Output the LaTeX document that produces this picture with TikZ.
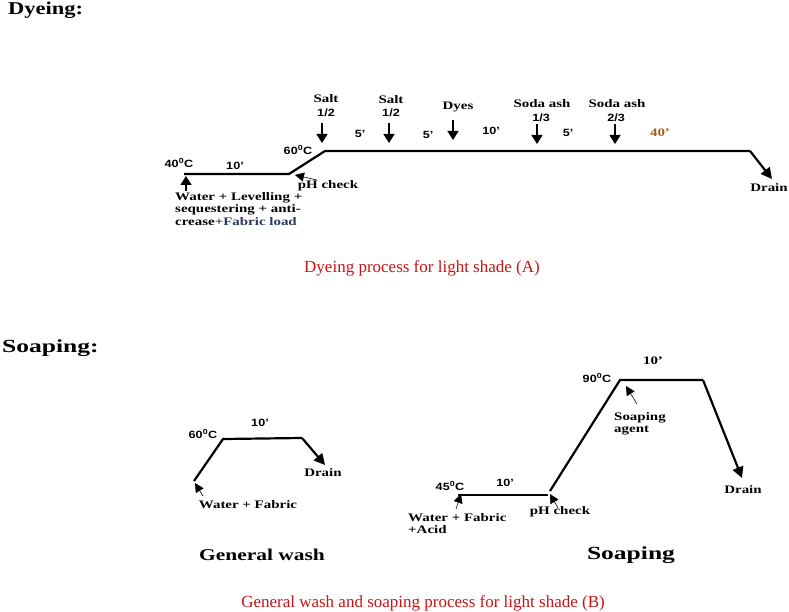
\documentclass[tikz,border=0pt]{standalone}
\usepackage{fontspec}
\setmainfont{Liberation Serif}
\newfontfamily\lblfont[FakeStretch=1.3]{Liberation Serif}
\newfontfamily\numfont[FakeStretch=1.2]{Liberation Sans}
\newfontfamily\ttlfont[FakeStretch=1.25]{Liberation Serif}
\newfontfamily\ttlwidefont[FakeStretch=1.38]{Liberation Serif}
\usetikzlibrary{arrows.meta}
\definecolor{capred}{RGB}{200,20,20}
\definecolor{loadblue}{RGB}{45,55,95}
\definecolor{timeorange}{RGB}{165,95,20}
\tikzset{
  proc/.style={line width=2.2pt, line join=miter},
  procarrow/.style={line width=2.2pt, -{Triangle[length=11pt,width=11pt]}},
  addarrow/.style={line width=1.3pt, -{Triangle[length=9pt,width=11pt]}},
  pointer/.style={line width=0.6pt, -{Triangle[length=9pt,width=9pt]}},
  lbl/.style={inner sep=0pt, font=\lblfont\bfseries\fontsize{11.5}{12.5}\selectfont},
  num/.style={inner sep=0pt, font=\numfont\bfseries\fontsize{10.5}{12}\selectfont},
  caption/.style={inner sep=0pt, text=capred, font=\fontsize{17}{20}\selectfont},
}
\begin{document}
\begin{tikzpicture}[x=1pt,y=-1pt]
\useasboundingbox (0,0) rectangle (789,612);

% ---------- Dyeing ----------
\node[inner sep=0pt, anchor=west, font=\ttlfont\bfseries\fontsize{18}{20}\selectfont] (tdye) at (8,10) {Dyeing:};

\coordinate (d0) at (184,174);
\coordinate (d1) at (289,174);
\coordinate (d2) at (325,151);
\coordinate (d3) at (750,151);
\coordinate (d4) at (772,179);
\draw[proc] (d0) -- (d1) -- (d2) -- (d3);
\draw[procarrow] (d3) -- (d4);

% start arrow
\coordinate (w0) at (186,191);
\coordinate (w1) at (186,176);
\draw[addarrow] (w0) -- (w1);
% pH check pointer
\coordinate (p0) at (317,180);
\coordinate (p1) at (295,175);
\draw[pointer] (p0) -- (p1);

% additions
\coordinate (a1t) at (322,123); \coordinate (a1b) at (322,143);
\coordinate (a2t) at (389,123); \coordinate (a2b) at (389,143);
\coordinate (a3t) at (453,120); \coordinate (a3b) at (453,140);
\coordinate (a4t) at (537,124); \coordinate (a4b) at (537,144);
\coordinate (a5t) at (615,124); \coordinate (a5b) at (615,144);
\foreach \n in {a1,a2,a3,a4,a5} {\draw[addarrow] (\n t) -- (\n b);}

\node[lbl] (salt1) at (326,99) {Salt};
\node[num] (salt1f) at (326,113) {1/2};
\node[lbl] (salt2) at (391,100) {Salt};
\node[num] (salt2f) at (391,113) {1/2};
\node[lbl] (dyes) at (458,107) {Dyes};
\node[lbl] (soda1) at (542,104) {Soda ash};
\node[num] (soda1f) at (541,118) {1/3};
\node[lbl] (soda2) at (617,104) {Soda ash};
\node[num] (soda2f) at (616,118) {2/3};

\node[num] (t5a) at (360,134) {5’};
\node[num] (t5b) at (428,135) {5’};
\node[num] (t10a) at (491,131) {10’};
\node[num] (t5c) at (568,133) {5’};
\node[lbl, text=timeorange] (t40) at (660,133) {40’};

\node[num] (c40) at (179,163) {40\textsuperscript{0}C};
\node[num] (t10b) at (235,166) {10’};
\node[num] (c60) at (298,150) {60\textsuperscript{0}C};
\node[lbl] (ph1) at (328,186) {pH check};
\node[lbl] (drain1) at (769,188) {Drain};
\node[lbl, anchor=north west, align=left] (water1) at (175,192)
  {Water + Levelling +\\sequestering + anti-\\crease{\color{loadblue}+Fabric load}};

\node[caption] (capA) at (422,268) {Dyeing process for light shade (A)};

% ---------- Soaping ----------
\node[inner sep=0pt, anchor=west, font=\ttlwidefont\bfseries\fontsize{18.5}{20}\selectfont] (tsoap) at (2,348) {Soaping:};

% general wash
\coordinate (g0) at (194,481);
\coordinate (g1) at (223,439);
\coordinate (g2) at (302,438);
\coordinate (g3) at (325,465);
\draw[proc] (g0) -- (g1) -- (g2);
\draw[procarrow] (g2) -- (g3);
\coordinate (gp0) at (203,496);
\coordinate (gp1) at (195,483);
\draw[pointer] (gp0) -- (gp1);

\node[num] (gc60) at (203,434) {60\textsuperscript{0}C};
\node[num] (gt10) at (260,423) {10’};
\node[lbl] (gdrain) at (323,473) {Drain};
\node[lbl] (gwater) at (248,505) {Water + Fabric};
\node[inner sep=0pt, font=\lblfont\bfseries\fontsize{16.5}{19}\selectfont] (gtitle) at (262,555) {General wash};

% soaping
\coordinate (s0) at (458,495);
\coordinate (s1) at (548,495);
\coordinate (s2) at (550,491);
\coordinate (s3) at (620,380);
\coordinate (s4) at (703,380);
\coordinate (s5) at (742,478);
\draw[proc] (s0) -- (s1);
\draw[proc] (s2) -- (s3) -- (s4);
\draw[procarrow] (s4) -- (s5);

\coordinate (sp0) at (456,509);
\coordinate (sp1) at (461,494);
\draw[pointer] (sp0) -- (sp1);
\coordinate (sq0) at (558,508);
\coordinate (sq1) at (550,494);
\draw[pointer] (sq0) -- (sq1);
\coordinate (sr0) at (637,404);
\coordinate (sr1) at (626,386);
\draw[pointer] (sr0) -- (sr1);

\node[num] (sc45) at (450,486) {45\textsuperscript{0}C};
\node[num] (st10) at (505,483) {10’};
\node[lbl] (sph) at (560,512) {pH check};
\node[lbl, anchor=north west, align=left] (swater) at (408,513) {Water + Fabric\\+Acid};
\node[num] (sc90) at (597,378) {90\textsuperscript{0}C};
\node[lbl] (st10b) at (653,361) {10’};
\node[lbl, anchor=north west, align=left] (sagent) at (614,412) {Soaping\\agent};
\node[lbl] (sdrain) at (743,490) {Drain};
\node[inner sep=0pt, font=\ttlwidefont\bfseries\fontsize{18.5}{20}\selectfont] (stitle) at (631,555) {Soaping};

\node[caption] (capB) at (423,603) {General wash and soaping process for light shade (B)};
\end{tikzpicture}
\end{document}
